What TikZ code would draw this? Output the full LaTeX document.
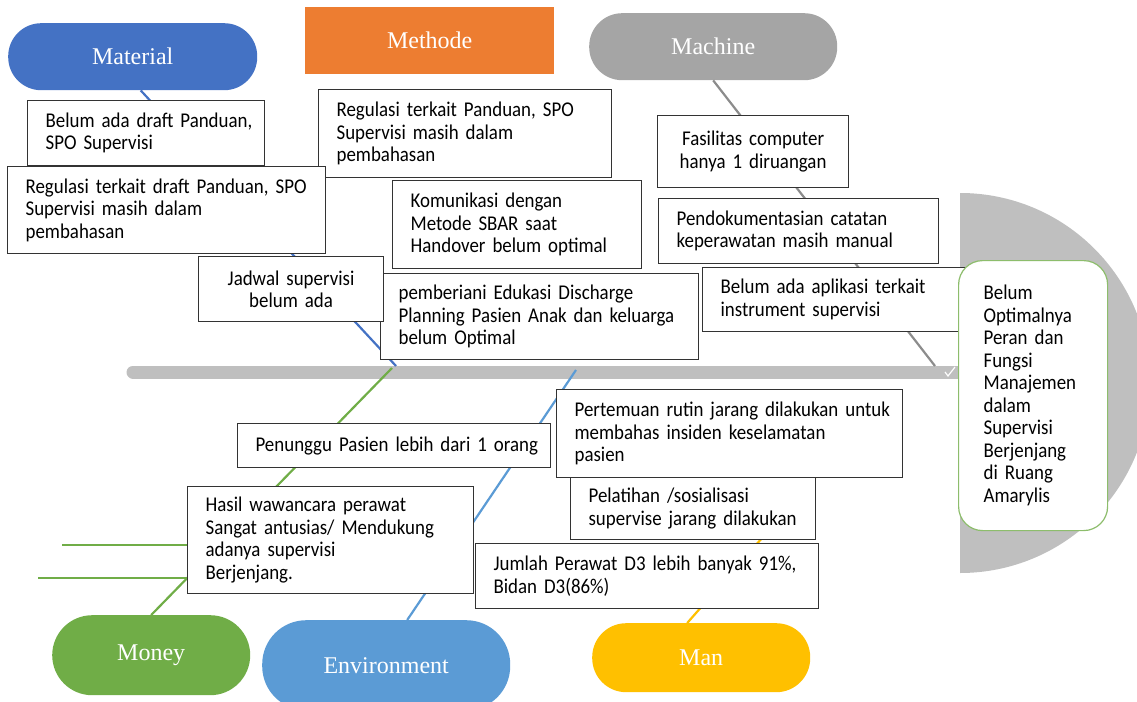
\documentclass[tikz,border=0pt]{standalone}
\usepackage{fontspec}
\usepackage{tikz}
\newfontfamily\causefont[FakeStretch=0.9]{Carlito}
\newfontfamily\headfont{Liberation Serif}
\definecolor{matblue}{HTML}{4472C4}
\definecolor{metorange}{HTML}{ED7D31}
\definecolor{macgray}{HTML}{A5A5A5}
\definecolor{mongreen}{HTML}{70AD47}
\definecolor{envblue}{HTML}{5B9BD5}
\definecolor{manyellow}{HTML}{FFC000}
\definecolor{spinegray}{HTML}{BFBFBF}
\hyphenpenalty=10000
\exhyphenpenalty=10000
\tikzset{
  cause/.style={draw=black!80, line width=1.2pt, fill=white, anchor=north west,
    inner xsep=4pt, inner ysep=0pt, align=left,
    font={\causefont\fontsize{21}{22.5}\selectfont}},
  causel/.style={cause, execute at begin node={\leftskip=14pt}},
  head/.style={text=white, inner sep=0pt, anchor=north west,
    font={\headfont\fontsize{24}{28}\selectfont}},
  bone/.style={line width=2.2pt},
}
\begin{document}
\begin{tikzpicture}[x=1pt,y=-1pt]
    \useasboundingbox (0,0) rectangle (1137,701);
    % fish head and spine
    \begin{scope}
      \clip (960,0) rectangle (1140,701);
      \fill[spinegray] (960,383) circle (190);
    \end{scope}
    \draw[spinegray, line width=13pt, line cap=round] (133,372) -- (960,372);
    \draw[white, line width=1.2pt] (945,372) -- (948,376) -- (955,367);
    % heads
    \node[head, fill=matblue, rounded corners=33pt, minimum width=249pt, minimum height=67pt] (mat) at (8,23) {Material};
    \node[head, fill=metorange, minimum width=249pt, minimum height=67pt] (met) at (305,7) {Methode};
    \node[head, fill=macgray, rounded corners=33pt, minimum width=248pt, minimum height=67pt] (mac) at (589,13) {Machine};
    \node[head, fill=mongreen, rounded corners=40pt, minimum width=198pt, minimum height=80pt] (mon) at (52,615) {Money};
    \node[head, fill=envblue, rounded corners=44pt, minimum width=248pt, minimum height=90pt] (env) at (262,620) {Environment};
    \node[head, fill=manyellow, rounded corners=34pt, minimum width=218pt, minimum height=69pt] (man) at (592,623) {Man};
    % bones
    \coordinate (spMat) at (396,366);
    \coordinate (spMac) at (935,366);
    \coordinate (spMon) at (392,368);
    \coordinate (spEnv) at (576,370);
    \coordinate (spMan) at (888,395);
    \draw[bone, matblue] ([xshift=8pt]mat.south) -- (spMat);
    \draw[bone, macgray!85!black] (mac.south) -- (spMac);
    \draw[bone, mongreen] (mon.north) -- (spMon);
    \draw[bone, envblue] ([xshift=21pt]env.north) -- (spEnv);
    \draw[bone, manyellow] ([xshift=-14pt]man.north) -- (spMan);
    % causes
    \node[causel, text width=229pt, minimum height=65pt] (matA) at (27,100) {Belum ada draft Panduan,\\SPO Supervisi};
    \node[causel, text width=285pt, minimum height=88pt] (metA) at (318,89) {Regulasi terkait Panduan, SPO\\Supervisi masih dalam\\pembahasan};
    \node[causel, text width=310pt, minimum height=87pt] (matB) at (7,166) {Regulasi terkait draft Panduan, SPO\\Supervisi masih dalam\\pembahasan};
    \node[causel, text width=241pt, minimum height=88pt] (metB) at (392,180) {Komunikasi dengan\\Metode SBAR saat\\Handover belum optimal};
    \node[causel, text width=310pt, minimum height=86pt] (metC) at (380,273) {pemberiani Edukasi Discharge\\Planning Pasien Anak dan keluarga\\belum Optimal};
    \node[cause, align=center, text width=177pt, minimum height=65pt] (metD) at (198,256) {Jadwal supervisi\\belum ada};
    \node[cause, align=center, text width=183pt, minimum height=72pt] (macA) at (657,115) {Fasilitas computer\\hanya 1 diruangan};
    \node[causel, text width=272pt, minimum height=65pt] (macB) at (658,198) {Pendokumentasian catatan\\keperawatan masih manual};
    \node[causel, text width=265pt, minimum height=64pt] (macC) at (702,267) {\makebox[228pt][s]{Belum ada aplikasi terkait}\\instrument supervisi};
    \node[causel, text width=278pt, minimum height=107pt] (monA) at (187,486) {Hasil wawancara perawat\\\makebox[249pt][s]{Sangat antusias/ Mendukung}\\adanya supervisi\\Berjenjang.};
    \node[causel, text width=305pt, minimum height=44pt] (envA) at (237,423) {Penunggu Pasien lebih dari 1 orang};
    \node[causel, text width=237pt, minimum height=62pt] (manA) at (570,477) {Pelatihan /sosialisasi\\supervise jarang dilakukan};
    \node[causel, text width=338pt, minimum height=88pt] (envB) at (556,389) {Pertemuan rutin jarang dilakukan untuk\\membahas insiden keselamatan\\pasien};
    \node[causel, text width=335pt, minimum height=65pt] (manB) at (475,543) {Jumlah Perawat D3 lebih banyak 91\%,\\Bidan D3(86\%)};
    % money sub-bones
    \coordinate (subA) at (62,545);
    \coordinate (subB) at (38,578);
    \draw[mongreen, line width=1.5pt] (subA) -- (subA -| monA.west);
    \draw[mongreen, line width=1.5pt] (subB) -- (subB -| monA.west);
    % effect
    \node[cause, draw=mongreen!80, rounded corners=24pt, inner xsep=25pt, text width=99pt, minimum height=270pt] (eff) at (958,260)
      {Belum\\Optimalnya\\\makebox[99pt][s]{Peran dan}\\Fungsi\\Manajemen\\dalam\\Supervisi\\Berjenjang\\\makebox[99pt][s]{di Ruang}\\Amarylis};
\end{tikzpicture}
\end{document}
